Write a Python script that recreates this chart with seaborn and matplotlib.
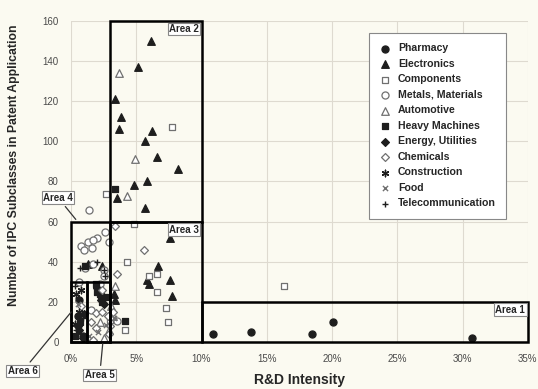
import matplotlib
matplotlib.use('Agg')
import matplotlib.pyplot as plt
import seaborn as sns
from matplotlib.patches import Rectangle


#################### Data ####################

# R&D intensity (%) and number of IPC subclasses per industry
pharmacy_x = [10.9, 13.8, 18.5, 20.1, 30.7, 0.5, 0.9, 0.6]
pharmacy_y = [4, 5, 4, 10, 2, 13, 3, 21]

electronics_x = [6.1, 5.1, 3.4, 3.8, 3.7, 6.2, 5.7, 6.6, 8.2, 5.8, 4.8, 3.5, 5.7,
                 7.6, 6.7, 5.8, 6.0, 7.6, 7.7, 3.4, 2.4, 1.3, 3.3]
electronics_y = [150, 137, 121, 112, 106, 105, 100, 92, 86, 80, 78, 72, 67,
                 52, 38, 31, 29, 31, 23, 21, 38, 39, 24]

components_x = [7.7, 2.7, 4.8, 4.3, 6.6, 6.0, 6.6, 7.3, 7.4, 4.1, 16.3, 3.0]
components_y = [107, 74, 59, 40, 34, 33, 25, 17, 10, 6, 28, 11]

metals_x = [1.4, 2.6, 2.0, 1.3, 1.7, 0.8, 1.0, 1.6, 2.9, 1.7, 1.1, 2.5, 2.5,
            3.5, 1.5, 0.6, 2.2]
metals_y = [66, 55, 52, 50, 51, 48, 46, 47, 50, 39, 37, 36, 33, 10.5, 16, 30, 29]

automotive_x = [3.7, 4.9, 4.3, 3.4, 2.5, 2.9, 3.1, 2.2, 3.2]
automotive_y = [134, 91, 73, 28, 2, 6, 18, 10, 13]

heavy_x = [3.4, 4.1, 1.9, 2.0, 2.2, 2.3, 2.4, 2.6, 1.1, 0.7, 0.3]
heavy_y = [76, 10.5, 29, 25, 24, 23, 20, 22.5, 38, 10, 3]

energy_x = [2.3, 2.0, 0.6, 0.9, 1.0, 0.5, 2.5]
energy_y = [21, 27, 6, 2, 14, 8, 19]

chemicals_x = [3.4, 5.6, 3.5, 1.9, 2.4, 2.8, 1.9, 1.7, 2.9, 3.0, 3.2, 0.8, 2.4, 1.5]
chemicals_y = [58, 46, 34, 14.5, 15, 13, 7, 1, 4, 8, 15, 18, 26, 10]

construction_x = [0.4, 0.8, 0.6, 0.3]
construction_y = [24, 26, 15, 9]

food_x = [2.7, 1.4, 2.1, 3.3, 0.5]
food_y = [8.6, 3, 5, 12, 19]

telecom_x = [2.5, 0.7, 2.0, 0.3, 0.5, 0.9, 0.4, 2.6]
telecom_y = [36, 37, 40, 28, 22, 12, 6, 33]

industries = ['Pharmacy', 'Electronics', 'Components', 'Metals, Materials',
              'Automotive', 'Heavy Machines', 'Energy, Utilities', 'Chemicals',
              'Construction', 'Food', 'Telecommunication']

x_ticks = [0, 5, 10, 15, 20, 25, 30, 35]
x_tick_labels = ['0%', '5%', '10%', '15%', '20%', '25%', '30%', '35%']
y_ticks = [0, 20, 40, 60, 80, 100, 120, 140, 160]

# areas as (x0, x1, y0, y1)
area_names = ['Area 1', 'Area 2', 'Area 3', 'Area 4', 'Area 5', 'Area 6']
area_bounds = [(10, 35, 0, 20), (3, 10, 60, 160), (3, 10, 0, 60),
               (0, 3, 0, 60), (1.2, 3, 0, 30), (0, 1.2, 0, 30)]


#################### Plot ####################

bg = '#fbfaf1'
sns.set_style('whitegrid', {'axes.facecolor': bg, 'grid.color': '#dedad0'})
plt.rcParams['font.family'] = ['Liberation Sans', 'DejaVu Sans']

fig = plt.figure(figsize=(5.38, 3.89), dpi=100, facecolor=bg)
ax = fig.add_axes([0.132, 0.121, 0.849, 0.825])

dark = '#1e1e1e'
gray = '#707070'
# (x, y, marker, size, face, edge)
series = [
    (pharmacy_x, pharmacy_y, 'o', 26, dark, dark),
    (electronics_x, electronics_y, '^', 30, dark, dark),
    (components_x, components_y, 's', 24, 'white', gray),
    (metals_x, metals_y, 'o', 26, 'white', gray),
    (automotive_x, automotive_y, '^', 30, 'white', gray),
    (heavy_x, heavy_y, 's', 16, dark, dark),
    (energy_x, energy_y, 'D', 16, dark, dark),
    (chemicals_x, chemicals_y, 'D', 16, 'white', gray),
    (construction_x, construction_y, (6, 2, 0), 22, dark, dark),
    (food_x, food_y, 'x', 14, gray, gray),
    (telecom_x, telecom_y, '+', 14, dark, dark),
]

for name, (xs, ys, m, s, fc, ec) in zip(industries, series):
    if m in ('x', '+') or isinstance(m, tuple):
        sns.scatterplot(x=xs, y=ys, marker=m, s=s, color=fc, linewidth=1,
                        label=name, ax=ax, zorder=3)
    else:
        sns.scatterplot(x=xs, y=ys, marker=m, s=s, color=fc, edgecolor=ec,
                        linewidth=0.9, label=name, ax=ax, zorder=3)

# area rectangles
for (x0, x1, y0, y1) in area_bounds:
    ax.add_patch(Rectangle((x0, y0), x1 - x0, y1 - y0, fill=False,
                           edgecolor='black', linewidth=1.8, zorder=4,
                           clip_on=False))

box = dict(boxstyle='square,pad=0.15', facecolor='white', edgecolor='#888888',
           linewidth=0.8)
lab_kw = dict(fontsize=7, fontweight='bold', bbox=box, zorder=5)
# labels inside their areas (top right corner)
for name, (x0, x1, y0, y1) in zip(area_names[:3], area_bounds[:3]):
    ax.text(x1 - 0.2, y1 - 1.5, name, ha='right', va='top', **lab_kw)

# labels outside the plot with leader lines
line_kw = dict(arrowstyle='-', color='#333333', linewidth=0.9)
ax.annotate('Area 4', xy=(0.5, 60), xytext=(-1.0, 72), ha='center',
            va='center', annotation_clip=False, arrowprops=line_kw, **lab_kw)
ax.annotate('Area 5', xy=(2.45, 0.5), xytext=(2.2, -16.5), ha='center',
            va='center', annotation_clip=False, arrowprops=line_kw, **lab_kw)
ax.annotate('Area 6', xy=(0.15, 16), xytext=(-3.7, -14.5), ha='center',
            va='center', annotation_clip=False, arrowprops=line_kw, **lab_kw)

ax.set_xlim(0, 35)
ax.set_ylim(0, 160)
ax.set_xticks(x_ticks)
ax.set_xticklabels(x_tick_labels)
ax.set_yticks(y_ticks)
ax.tick_params(axis='both', labelsize=7, colors='#4a4a4a', length=2, pad=7)
for sp in ax.spines.values():
    sp.set_visible(False)

ax.set_xlabel('R&D Intensity', fontsize=10, fontweight='bold', labelpad=6)
ax.set_ylabel('Number of IPC Subclasses in Patent Application', fontsize=8.8,
              fontweight='bold')
ax.yaxis.set_label_coords(-0.112, 0.55)

leg = ax.legend(loc='upper left', bbox_to_anchor=(0.652, 0.963), borderaxespad=0,
                prop={'size': 7.6, 'weight': 'bold'}, labelspacing=0.52,
                handletextpad=0.75, handlelength=1.0, borderpad=1.0,
                frameon=True, fancybox=False, facecolor='white',
                edgecolor='#888888', framealpha=1)
leg.get_frame().set_linewidth(0.8)
leg.set_zorder(6)

fig.savefig('out.png', dpi=100, facecolor=bg)
